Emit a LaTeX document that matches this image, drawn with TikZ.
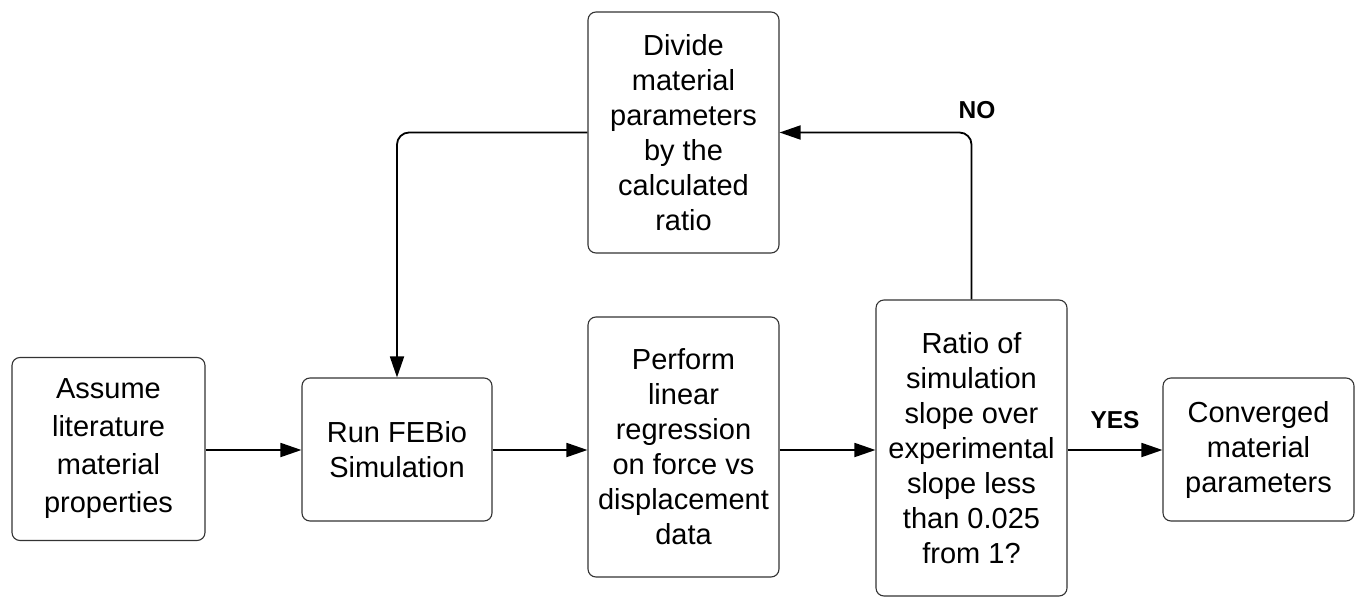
\documentclass[tikz,border=0pt]{standalone}
\usepackage{fontspec}
\setmainfont{Liberation Sans}
\usetikzlibrary{arrows.meta,calc}
\begin{document}
\begin{tikzpicture}[x=1pt,y=-1pt,
  box/.style={draw=black!80,line width=1.1pt,rounded corners=8pt,align=center,
    inner sep=0pt,font=\fontsize{29}{35}\selectfont},
  conn/.style={line width=1.8pt,-{Triangle[length=21pt,width=14pt]}},
  lbl/.style={font=\fontsize{24.5}{28}\selectfont\bfseries}]
\useasboundingbox (0,0) rectangle (1357,597);
\node[box,minimum width=193pt,minimum height=183pt,font=\fontsize{29}{38}\selectfont] (b1) at (108.5,449) {Assume\\literature\\material\\properties};
\node[box,minimum width=190pt,minimum height=143pt] (b2) at (397,449.5) {Run FEBio\\Simulation};
\node[box,minimum width=191pt,minimum height=260pt] (b3) at (683.5,447) {Perform\\linear\\regression\\on force vs\\displacement\\data};
\node[box,minimum width=191pt,minimum height=296pt] (b4) at (971.5,448) {Ratio of\\simulation\\slope over\\experimental\\slope less\\than 0.025\\from 1?};
\node[box,minimum width=191pt,minimum height=143pt] (b5) at (1258.5,449.5) {Converged\\material\\parameters};
\node[box,minimum width=191pt,minimum height=241pt] (b6) at (683.5,132.5) {Divide\\material\\parameters\\by the\\calculated\\ratio};
\coordinate (ay) at (0,450);
\draw[conn] (b1.east |- ay) -- (b2.west |- ay);
\draw[conn] (b2.east |- ay) -- (b3.west |- ay);
\draw[conn] (b3.east |- ay) -- (b4.west |- ay);
\draw[conn] (b4.east |- ay) -- (b5.west |- ay);
\draw[conn,rounded corners=12pt] (b4.north) |- (b6.east);
\draw[conn,rounded corners=12pt] (b6.west) -| (b2.north);
\node[lbl] (yes) at (1115,420) {YES};
\node[lbl] (no) at (977,110) {NO};
\end{tikzpicture}
\end{document}
